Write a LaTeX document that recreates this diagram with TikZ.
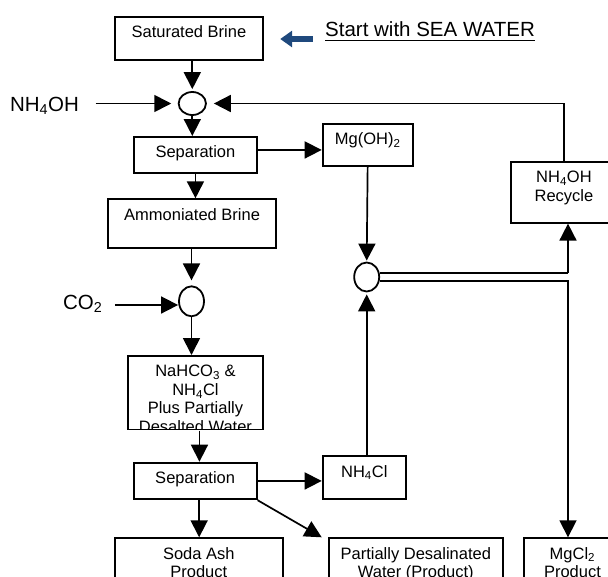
\documentclass[tikz,border=0pt]{standalone}
\usepackage{fontspec}
\setmainfont{Liberation Sans}
\usetikzlibrary{arrows.meta,shapes.geometric,calc}
\newcommand\bxt[3]{\parbox[c][#2][t]{#1}{\centering\rule{0pt}{21pt}#3}}
\newcommand\sbs[1]{\textsubscript{#1}}
\newcommand\myul[1]{\setbox0\hbox{#1}\rlap{\raisebox{-4.7pt}{\rule{\wd0}{1.4pt}}}\box0}
\definecolor{navy}{HTML}{1F497D}
\tikzset{
  x=1pt,y=-1pt,
  box/.style={draw,line width=1.9pt,inner sep=0pt,anchor=north west,font=\fontsize{16.5}{18.5}\selectfont},
  jn/.style={draw,ellipse,line width=1.8pt,inner sep=0pt},
  lbl/.style={inner sep=0pt,anchor=base,font=\fontsize{20.5}{24}\selectfont},
  arr/.style={line width=1.7pt,-{Triangle[length=17pt,width=17pt]}},
  ln/.style={line width=1.7pt},
  blk/.style={line width=6pt,draw=navy,-{Triangle[length=12pt,width=16pt]}},
}
\begin{document}
\begin{tikzpicture}
\useasboundingbox (0,0) rectangle (608,576);
% boxes
\node[box] (sat)  at (114,15.7)   {\bxt{148pt}{43pt}{Saturated Brine}};
\node[box] (sep1) at (133,136)    {\bxt{123pt}{36pt}{Separation}};
\node[box] (amm)  at (107,198.3)  {\bxt{168.3pt}{49pt}{Ammoniated Brine}};
\node[box] (mg)   at (321.7,122.7){\bxt{90pt}{42.6pt}{Mg(OH)\sbs{2}}};
\node[box] (rec)  at (510,161)    {\bxt{106pt}{60.7pt}{NH\sbs{4}OH\\Recycle}};
\begin{scope}
\clip (100,340) rectangle (280,429.8);
\node[box] (nah)  at (127.3,355)  {\bxt{134.4pt}{73.7pt}{NaHCO\sbs{3} \&\\NH\sbs{4}Cl\\Plus Partially\\Desalted Water}};
\end{scope}
\node[box] (sep2) at (132.7,461.7){\bxt{123pt}{36.6pt}{Separation}};
\node[box] (nhc)  at (321.7,455.3){\bxt{83.3pt}{42.7pt}{NH\sbs{4}Cl}};
\node[box] (soda) at (114,537.3)  {\bxt{167.7pt}{50pt}{Soda Ash\\Product}};
\node[box] (pdw)  at (327.7,537.3){\bxt{174.3pt}{50pt}{Partially Desalinated\\Water (Product)}};
\node[box] (mgcl) at (523,537.3)  {\bxt{97pt}{50pt}{MgCl\sbs{2}\\Product}};
% junctions
\node[jn,minimum width=27.3pt,minimum height=23pt] (c1) at (192.3,103.5) {};
\node[jn,minimum width=25pt,minimum height=30pt] (c2) at (191.5,301.3) {};
\node[jn,minimum width=25pt,minimum height=29pt] (c3) at (366.7,277) {};
% labels
\node[lbl] (nh) at (44.5,111) {NH\sbs{4}OH};
\node[lbl] (co2) at (82.7,309.5) {CO\sbs{2}};
\node[lbl,anchor=base west] (start) at (325,36.7) {\myul{Start with SEA WATER}};
% coordinates
\coordinate (j1) at (568,273.3);
\coordinate (j2) at (568,281);
\coordinate (bt) at (312.7,39);
\coordinate (c2in) at ([yshift=-3.7pt]c2.west);
% connectors
\draw[blk,shorten >=16.3pt] (bt) -- (bt -| sat.east);
\draw[arr,shorten >=2pt] (c1.north |- sat.south) -- (c1.north);
\draw[arr,shorten <=16.5pt,shorten >=6.5pt] (nh.east |- c1.west) -- (c1.west);
\draw[arr,shorten >=7pt] (rec.north) |- (c1.east);
\draw[arr] (c1.south) -- (c1.south |- sep1.north);
\draw[arr] (sep1.south) -- (sep1.south |- amm.north);
\draw[arr] ([yshift=5pt]sep1.east) -- ([yshift=5pt]sep1.east -| mg.west);
\draw[arr,shorten >=1pt] (mg.south) -- (c3.north);
\draw[arr,shorten >=5pt] (c2.north |- amm.south) -- (c2.north);
\draw[arr,shorten <=12.3pt] (co2.east |- c2in) -- (c2in);
\draw[arr] (c2.south) -- (c2.south |- nah.north);
\draw[arr] ([xshift=4pt]nah.south) -- ([xshift=4pt]nah.south |- sep2.north);
\draw[arr] (sep2.east) -- (sep2.east -| nhc.west);
\draw[arr,shorten >=2pt] (c3.south |- nhc.north) -- (c3.south);
\draw[arr] ([xshift=4pt]sep2.south) -- ([xshift=4pt]sep2.south |- soda.north);
\draw[arr] (sep2.south east) -- ([xshift=-6pt]pdw.north west);
\draw[ln] (c3.east |- j1) -- (j1);
\draw[arr] (j1) -- (j1 |- rec.south);
\draw[arr] (c3.east |- j2) -- (j2) -- (j2 |- mgcl.north);
\end{tikzpicture}
\end{document}
